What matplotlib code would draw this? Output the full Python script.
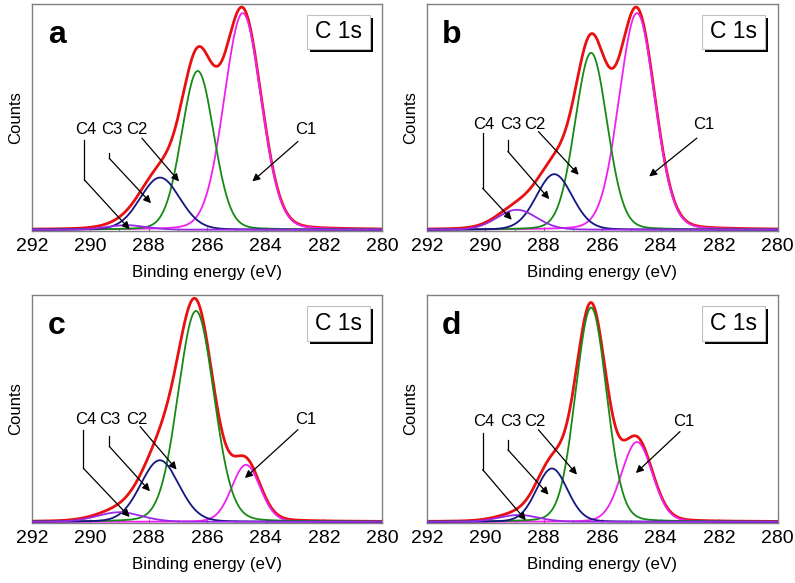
import numpy as np
import matplotlib
matplotlib.use("Agg")
import matplotlib.pyplot as plt
from matplotlib.patches import Rectangle
from matplotlib.ticker import MultipleLocator

plt.rcParams['font.family'] = ['Liberation Sans', 'DejaVu Sans']

# peak parameters per panel: C1, C2, C3, C4
panels = ["a", "b", "c", "d"]
centers = {
    "a": [284.78, 286.32, 287.61, 288.75],
    "b": [284.81, 286.38, 287.64, 288.92],
    "c": [284.67, 286.38, 287.62, 289.0],
    "d": [284.81, 286.38, 287.72, 288.86],
}
heights = {
    "a": [0.955, 0.70, 0.23, 0.02],
    "b": [0.955, 0.78, 0.245, 0.088],
    "c": [0.25, 0.925, 0.27, 0.042],
    "d": [0.35, 0.94, 0.234, 0.03],
}
fwhms = {
    "a": [1.50, 1.30, 1.60, 1.6],
    "b": [1.45, 1.30, 1.45, 1.6],
    "c": [1.15, 1.45, 1.55, 1.8],
    "d": [1.25, 1.25, 1.25, 1.6],
}
baseline = 0.005
comp_colors = ["#f020f0", "#168a16", "#151580", "#9a28e6"]

# label x and arrow path (axes fraction) for each label
arrows = {
    "a": {"C4": (0.155, [(0.150, 0.401), (0.150, 0.225), (0.279, 0.007)]),
          "C3": (0.228, [(0.221, 0.343), (0.221, 0.320), (0.340, 0.122)]),
          "C2": (0.300, [(0.314, 0.409), (0.420, 0.218)]),
          "C1": (0.780, [(0.759, 0.394), (0.629, 0.218)])},
    "b": {"C4": (0.162, [(0.159, 0.430), (0.159, 0.188), (0.242, 0.049)]),
          "C3": (0.238, [(0.231, 0.400), (0.231, 0.350), (0.349, 0.140)]),
          "C2": (0.309, [(0.318, 0.438), (0.433, 0.247)]),
          "C1": (0.789, [(0.770, 0.409), (0.634, 0.240)])},
    "c": {"C4": (0.155, [(0.147, 0.409), (0.147, 0.240), (0.279, 0.026)]),
          "C3": (0.223, [(0.221, 0.380), (0.221, 0.336), (0.337, 0.139)]),
          "C2": (0.300, [(0.309, 0.423), (0.413, 0.234)]),
          "C1": (0.780, [(0.759, 0.409), (0.608, 0.197)])},
    "d": {"C4": (0.162, [(0.159, 0.394), (0.159, 0.234), (0.282, 0.012)]),
          "C3": (0.238, [(0.231, 0.365), (0.231, 0.321), (0.347, 0.124)]),
          "C2": (0.309, [(0.318, 0.409), (0.428, 0.212)]),
          "C1": (0.732, [(0.722, 0.401), (0.596, 0.219)])},
}
label_y = {"a": 0.445, "b": 0.468, "c": 0.455, "d": 0.445}

positions = {
    "a": [0.040, 0.604, 0.441, 0.389],
    "b": [0.537, 0.604, 0.441, 0.389],
    "c": [0.040, 0.103, 0.441, 0.391],
    "d": [0.537, 0.103, 0.441, 0.391],
}


def peak(x, c, h, w, eta=0.1):
    sig = w / 2.3548
    g = np.exp(-0.5 * ((x - c) / sig) ** 2)
    l = 1.0 / (1.0 + ((x - c) / (w / 2)) ** 2)
    return h * ((1 - eta) * g + eta * l)


x = np.linspace(280, 292, 1200)

fig = plt.figure(figsize=(7.95, 5.83), dpi=100)

for p in panels:
    ax = fig.add_axes(positions[p])
    comps = [peak(x, c, h, w) for c, h, w in zip(centers[p], heights[p], fwhms[p])]
    env = baseline + np.sum(comps, axis=0)
    ax.plot(x, env, color="#e81010", lw=2.0, zorder=2)
    for comp, col in zip(comps, comp_colors):
        ax.plot(x, baseline + comp, color=col, lw=1.3, zorder=3)

    ax.set_xlim(292, 280)
    ax.set_ylim(0, 1.0)
    ax.set_yticks([])
    ax.xaxis.set_major_locator(MultipleLocator(2))
    ax.xaxis.set_minor_locator(MultipleLocator(1))
    ax.tick_params(axis="x", which="major", direction="in", length=3,
                   labelsize=14, color="#707070", pad=5)
    ax.tick_params(axis="x", which="minor", direction="in", length=2, color="#707070")
    for s in ax.spines.values():
        s.set_color("#808080")
        s.set_linewidth(1.0)
    ax.set_xlabel("Binding energy (eV)", fontsize=12.2, labelpad=7)
    ax.set_ylabel("Counts", fontsize=12, labelpad=6)

    ax.text(0.071, 0.865, p, transform=ax.transAxes, fontsize=23,
            fontweight="bold", ha="center", va="center")

    # C 1s box with shadow
    ax.add_patch(Rectangle((0.793, 0.787), 0.181, 0.153, transform=ax.transAxes,
                           facecolor="black", edgecolor="none", zorder=5))
    ax.add_patch(Rectangle((0.784, 0.800), 0.181, 0.153, transform=ax.transAxes,
                           facecolor="white", edgecolor="#c0c0c0", lw=0.8, zorder=6))
    ax.text(0.8745, 0.877, "C 1s", transform=ax.transAxes, fontsize=16.5,
            ha="center", va="center", zorder=7)

    for name, (lx, path) in arrows[p].items():
        ax.text(lx, label_y[p], name, transform=ax.transAxes, fontsize=12,
                ha="center", va="center", zorder=8)
        if len(path) > 2:
            xs = [pt[0] for pt in path[:-1]]
            ys = [pt[1] for pt in path[:-1]]
            ax.plot(xs, ys, color="black", lw=0.9, transform=ax.transAxes, zorder=8)
        ax.annotate("", xy=path[-1], xytext=path[-2], xycoords="axes fraction",
                    textcoords="axes fraction", zorder=8,
                    arrowprops=dict(arrowstyle="-|>", color="black", lw=0.9,
                                    mutation_scale=11, shrinkA=0, shrinkB=0))

fig.savefig("out.png", dpi=100)
